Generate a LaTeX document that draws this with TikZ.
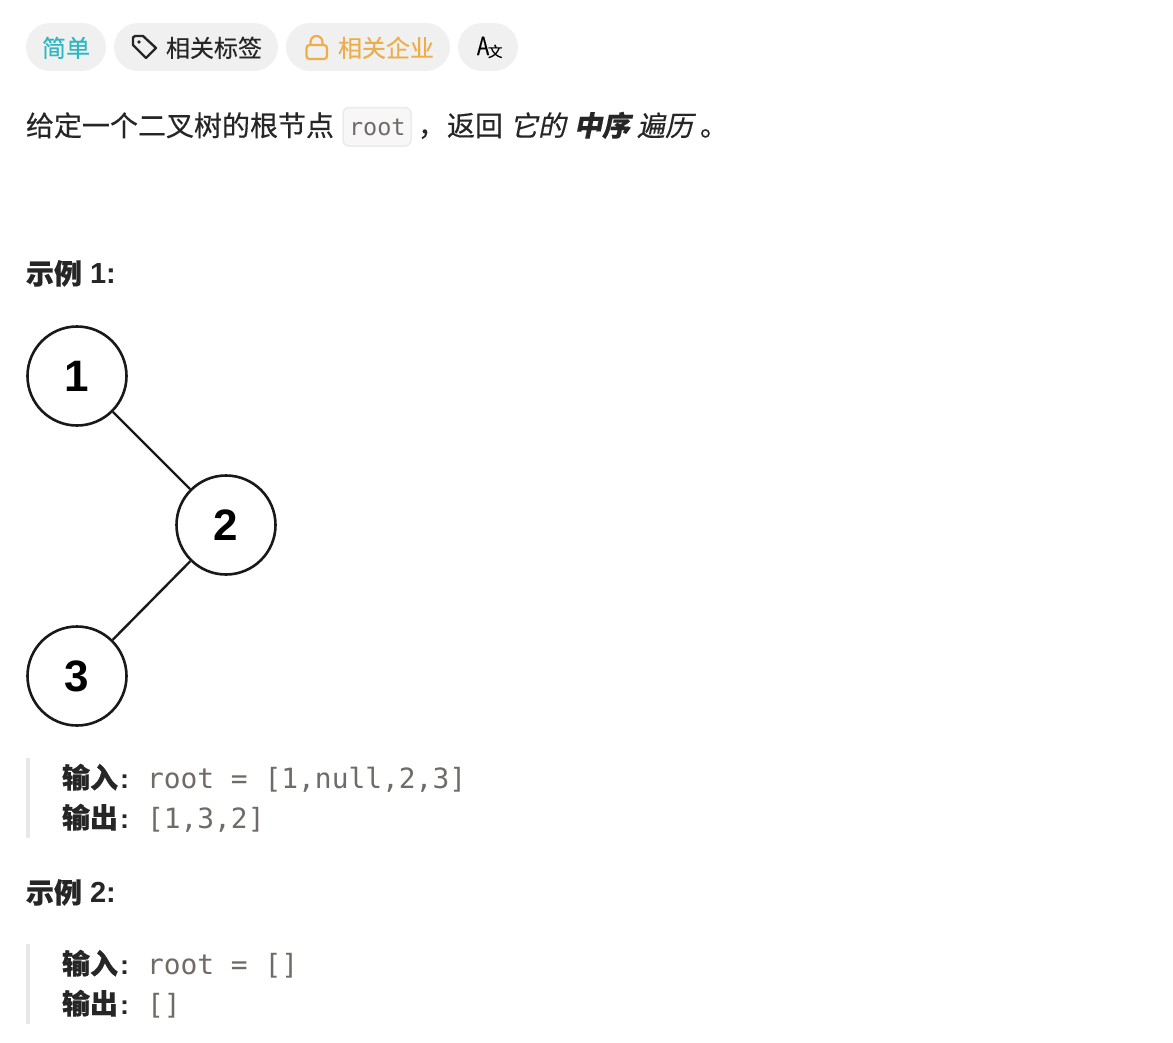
\documentclass[tikz,border=0pt]{standalone}
\usepackage{fontspec}
\setmainfont{Noto Sans CJK SC}[FakeBold=0.35]
\newfontfamily\cjkslant{Noto Sans CJK SC}[FakeSlant=0.2,FakeBold=0.35]
\newfontfamily\codefont{DejaVu Sans Mono}
\newfontfamily\digitfont{Liberation Sans}
\definecolor{pillbg}{HTML}{F0F0F0}
\definecolor{teal}{HTML}{2DB8C1}
\definecolor{gold}{HTML}{EDAE49}
\definecolor{ink}{HTML}{262626}
\definecolor{codegrey}{HTML}{6F6B66}
\definecolor{barcol}{HTML}{E8E8E8}
\tikzset{
  x=1pt,y=-1pt,
  pill/.style={fill=pillbg,draw=none,rounded corners=24pt},
  txt/.style={anchor=base west,inner sep=0pt,outer sep=0pt,text=ink},
  body/.style={txt,font=\fontsize{28}{28}\selectfont},
  small/.style={txt,font=\fontsize{24}{24}\selectfont},
  slant/.style={txt,font=\fontsize{28}{28}\selectfont\cjkslant},
  slantb/.style={txt,font=\fontsize{28}{28}\selectfont\cjkslant\bfseries},
  lab/.style={txt,font=\fontsize{28}{28}\selectfont\bfseries},
  latb/.style={txt,font=\fontsize{27}{28}\selectfont\digitfont\bfseries},
  headnum/.style={txt,font=\fontsize{29}{29}\selectfont\digitfont\bfseries},
  code/.style={txt,text=codegrey,font=\fontsize{27.9}{28}\selectfont\codefont},
  treenode/.style={circle,draw=black!90,line width=2.6pt,minimum size=99pt,inner sep=0pt,fill=white,font=\fontsize{44}{45}\selectfont\digitfont\bfseries,text=black},
  edgeline/.style={draw=black!90,line width=2.4pt},
  bar/.style={fill=barcol,draw=none},
}
\begin{document}
\begin{tikzpicture}
\useasboundingbox (0,0) rectangle (1173,1042);
\fill[white] (0,0) rectangle (1173,1042);
% pills
\path[pill] (26,23) rectangle (106,71);
\path[pill] (114,23) rectangle (278,71);
\path[pill] (286,23) rectangle (450,71);
\path[pill] (458,23) rectangle (518,71);
\node[small,text=teal] (easy) at (42,57) {简单};
\draw[ink,line width=2.4pt,line join=round] (133,37.5) -- (133,45) -- (146,58) -- (156,48) -- (143,36) -- (135,36) -- cycle;
\fill[ink] (139,42) circle (1.9pt);
\node[small] (tags) at (166,57) {相关标签};
\draw[gold,line width=2.2pt,rounded corners=3pt] (306.5,45) rectangle (327,59);
\draw[gold,line width=2.2pt] (310.5,45) -- (310.5,42) arc[start angle=180,end angle=360,radius=6] -- (322.5,45);
\node[small,text=gold] (firms) at (338,57) {相关企业};
\node[txt,text=black,xscale=0.8,font=\fontsize{25}{25}\selectfont] (aa) at (477,55) {A};
\node[txt,text=black,font=\fontsize{14.5}{15}\selectfont] (xx) at (488,57) {文};
% statement
\node[body] (t1) at (26,136) {给定一个二叉树的根节点};
\path[fill=black!3,draw=black!8,line width=1.5pt,rounded corners=6pt] (343,107.5) rectangle (411,146);
\node[txt,text=codegrey,font=\fontsize{23.5}{24}\selectfont\codefont] (rootc) at (349,135) {root};
\node[body] (t2) at (418,136) {，};
\node[body] (t3) at (447,136) {返回};
\node[slant] (t4) at (510,136) {它的};
\node[slantb] (t5) at (574,136) {中序};
\node[slant] (t6) at (637,136) {遍历};
\node[body] (t7) at (700,136) {。};
% example 1
\node[lab] (h1) at (26,284) {示例};
\node[headnum] (h1n) at (90,283.5) {1:};
% tree
\node[treenode] (n1) at (77,376) {1};
\node[treenode] (n2) at (226,525) {2};
\node[treenode] (n3) at (77,676) {3};
\draw[edgeline] (n1) -- (n2);
\draw[edgeline] (n2) -- (n3);
% block 1
\path[bar] (26,758) rectangle (30,838);
\node[lab] (i1) at (62,788) {输入};
\node[latb] (ic1) at (120,788) {:};
\node[code] (iv1) at (147,788) {root = [1,null,2,3]};
\node[lab] (o1) at (62,828) {输出};
\node[latb] (oc1) at (120,828) {:};
\node[code] (ov1) at (147,828) {[1,3,2]};
% example 2
\node[lab] (h2) at (26,903) {示例};
\node[headnum] (h2n) at (90,902.5) {2:};
% block 2
\path[bar] (26,944) rectangle (30,1024);
\node[lab] (i2) at (62,974) {输入};
\node[latb] (ic2) at (120,974) {:};
\node[code] (iv2) at (147,974) {root = []};
\node[lab] (o2) at (62,1014) {输出};
\node[latb] (oc2) at (120,1014) {:};
\node[code] (ov2) at (147,1014) {[]};
\end{tikzpicture}
\end{document}
